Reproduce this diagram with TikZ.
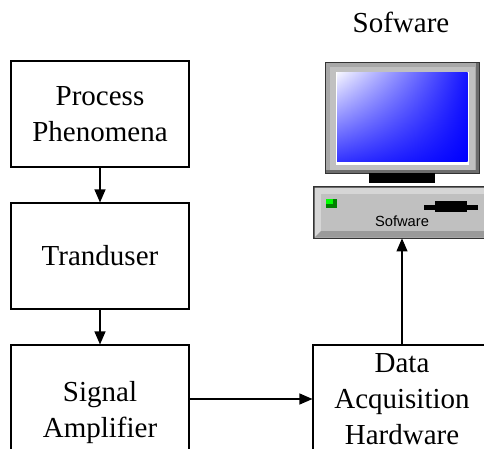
\documentclass[tikz,border=0pt]{standalone}
\usepackage{fontspec}
\setmainfont{Liberation Serif}
\newfontfamily\labelsans{Liberation Sans}
\usetikzlibrary{arrows.meta,shadings}
\definecolor{frameband}{HTML}{A8A8A8}
\definecolor{facegray}{HTML}{C0C0C0}
\definecolor{lightband}{HTML}{D6D6D6}
\definecolor{shadowband}{HTML}{9A9A9A}
\definecolor{ledgreen}{HTML}{008000}
\definecolor{ledlight}{HTML}{00FF00}
\tikzset{
  block/.style={draw=black, line width=1.1pt, minimum width=178pt, align=center,
    font=\fontsize{29}{36}\selectfont, inner sep=0pt},
  flow/.style={draw=black, line width=1.1pt, -{Triangle[length=13pt,width=11pt]}},
}
\begin{document}
\begin{tikzpicture}[x=1pt, y=-1pt]
\useasboundingbox (0,0) rectangle (484,449);
\clip (0,0) rectangle (484,449);
\fill[white] (0,0) rectangle (484,449);

% signal chain blocks
\node[block, minimum height=106pt] (proc) at (100,114) {Process\\Phenomena};
\node[block, minimum height=106pt] (trans) at (100,256) {Tranduser};
\node[block, minimum height=136pt] (amp) at (100,413) {Signal\\Amplifier};
\node[block, minimum height=109pt] (daq) at (402,399.5) {Data\\Acquisition\\Hardware};

% title above the computer
\node[font=\fontsize{29}{36}\selectfont, anchor=base] (title) at (401,33) {Sofware};

% monitor
\filldraw[fill=frameband, draw=black!80, line width=0.8pt] (325,62) rectangle (479,173);
\fill[shadowband!70!black] (476,63) rectangle (478.6,172.6);
\fill[shadowband!70!black] (326,170) rectangle (478.6,172.6);
\fill[facegray] (330,67) rectangle (475,170);
\fill[white] (336,72) rectangle (469,165);
\shade[upper left=blue!4, upper right=blue!92, lower left=blue!80, lower right=blue] (337,73) rectangle (467.5,161.5);
\fill[black] (369,173) rectangle (435,183);

% system unit
\node[draw=black!80, fill=facegray, line width=0.8pt, minimum width=176pt, minimum height=51pt, inner sep=0pt] (pc) at (402,212.5) {};
\fill[lightband] (314.5,187.5) -- (489.5,187.5) -- (489.5,194) -- (321,194) -- (321,231) -- (314.5,237.5) -- cycle;
\fill[facegray] (321,194) rectangle (489.5,231);
\fill[shadowband] (314.5,237.5) -- (321,231) -- (489.5,231) -- (489.5,237.5) -- cycle;
\draw[black!80, line width=0.8pt] (pc.north west) rectangle (pc.south east);
\fill[ledgreen] (326,199) rectangle (337,208);
\fill[ledlight] (326,199) rectangle (333,204);
\fill[black] (424,205) rectangle (478,210);
\fill[black] (435,201) rectangle (467,212);
\node[font=\labelsans\fontsize{14.7}{16}\selectfont, anchor=base] (pclabel) at (402,226) {Sofware};

% connectors
\draw[flow] (proc) -- (trans);
\draw[flow] (trans) -- (amp);
\draw[flow] ([yshift=14pt]amp.east) -- ([yshift=14pt]amp.east -| daq.west);
\draw[flow] (daq.north) -- (pc.south);
\end{tikzpicture}
\end{document}
